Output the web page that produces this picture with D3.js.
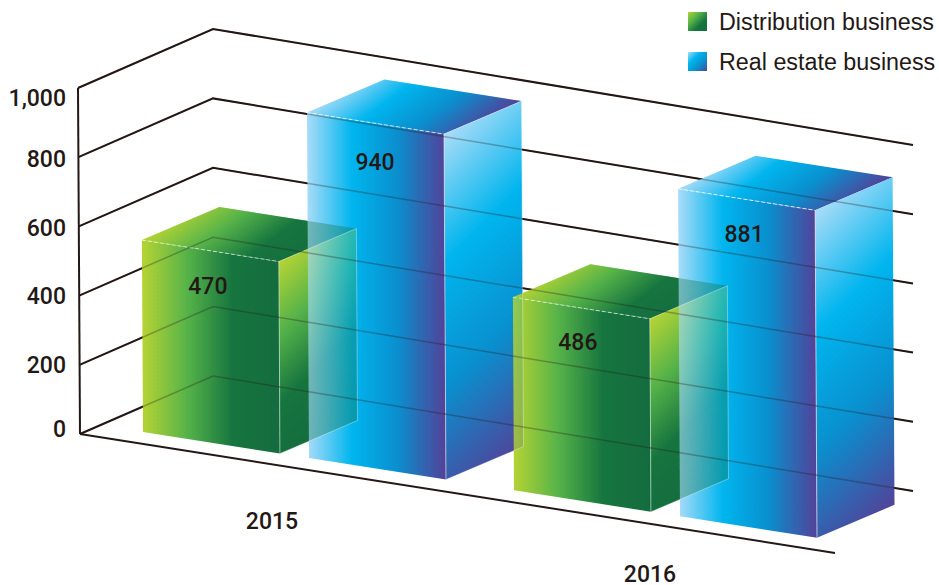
<!DOCTYPE html>
<html>
<head>
<meta charset="utf-8">
<script src="https://cdn.jsdelivr.net/npm/d3@7"></script>
<style>
    body { margin: 0; background: #fff; }
    svg { display: block; }
    .num { font-family: Roboto, sans-serif; font-weight: 500; fill: #231815; }
    .legend-label { font-family: "Liberation Sans", Arial, sans-serif; font-size: 23.3px; fill: #231815; }
</style>
</head>
<body>
<div id="chart"></div>
<script>
// Data
const years = ['2015', '2016'];
const seriesNames = ['Distribution business', 'Real estate business'];
const distribution = [470, 486];
const realEstate = [940, 881];
const tickValues = [0, 200, 400, 600, 800, 1000];

const greenStops = ['#b6d433', '#56b349', '#16753f', '#146c3e'];
const blueStops = ['#aadcf8', '#00b5ee', '#0a8fce', '#50449a'];
const stopOffsets = [0, 0.33, 0.66, 1];

const width = 939;
const height = 585;
const ink = '#231815';

const svg = d3.select('#chart').append('svg')
    .attr('width', width)
    .attr('height', height)
    .attr('viewBox', [0, 0, width, height]);
const defs = svg.append('defs');

function addGradient(id, stops, coords) {
    const g = defs.append('linearGradient').attr('id', id);
    if (coords) {
        g.attr('gradientUnits', 'userSpaceOnUse')
            .attr('x1', coords[0]).attr('y1', coords[1])
            .attr('x2', coords[2]).attr('y2', coords[3]);
    } else {
        g.attr('x1', 0).attr('y1', 0).attr('x2', 1).attr('y2', 1);
    }
    g.selectAll('stop').data(stops).join('stop')
        .attr('offset', (d, i) => stopOffsets[i])
        .attr('stop-color', d => d);
    return `url(#${id})`;
}

// The walls: value to screen position on the left wall and the back wall
const yLeft = d3.scaleLinear().domain([0, 1000]).range([434, 88]);
const xLeft = d3.scaleLinear().domain([0, 1000]).range([80, 78]);
const yBack = d3.scaleLinear().domain([0, 1000]).range([376, 29]);
const yBackRight = d3.scaleLinear().domain([0, 1000]).range([491, 145]);
const xBack = 213;
const xBackRight = 913;

// tick labels do not sit exactly on the wall lines in the original
const yLabel = d3.scaleLinear().domain(tickValues).range([428, 364, 295, 227, 158, 97]);

// Bars: the drawn heights are not proportional to the wall scale
const barHeight = d3.scaleLinear().domain([470, 486, 881, 940]).range([192, 193, 327.5, 345.5]);
const xYear = d3.scaleBand().domain(years).range([143, 885]);
const xSeries = d3.scaleBand().domain(seriesNames).range([0, 332]);
const floorY = x => 432 + (x - 143) * 0.157;

const barW = [137, 21.5];
const barD = [77.5, -33];
const lean = 2 / 346;

// Grid
const gridLines = tickValues.map(v => [
    [xLeft(v), yLeft(v)], [xBack, yBack(v)], [xBackRight, yBackRight(v)]
]);
const floorFront = [[xLeft(0), yLeft(0)], [835, 553]];
const line = d3.line();

const gridG = svg.append('g').attr('fill', 'none').attr('stroke', ink).attr('stroke-width', 2);
gridG.selectAll('path.grid').data(gridLines).join('path')
    .attr('class', 'grid')
    .attr('d', line);
gridG.append('path').attr('d', line(floorFront));
gridG.append('path').attr('d', line([[xLeft(1000), yLeft(1000)], [xLeft(0), yLeft(0)]]));

// Bars, left to right
const bars = [];
years.forEach((year, i) => {
    bars.push({ year, series: seriesNames[0], value: distribution[i], stops: greenStops, ghost: 0.35 });
    bars.push({ year, series: seriesNames[1], value: realEstate[i], stops: blueStops, ghost: 0.18 });
});

const barsG = svg.append('g');

function facesOf(d, i) {
    const x0 = xYear(d.year) + xSeries(d.series);
    const y0 = floorY(x0);
    const h = barHeight(d.value);
    const pt = (w, z, up) => [
        x0 + w * barW[0] + z * barD[0] - up * h * lean,
        y0 + w * barW[1] + z * barD[1] - up * h
    ];
    const tl = pt(0, 0, 1), tr = pt(1, 0, 1), bl = pt(0, 0, 0), br = pt(1, 0, 0);
    const ttr = pt(1, 1, 1), ttl = pt(0, 1, 1), sbr = pt(1, 1, 0);
    const run = 186 * h / 328;

    return {
        tl, tr, bl, br, ttr, ttl, sbr,
        front: [tl, tr, br, bl],
        side: [tr, ttr, sbr, br],
        top: [tl, ttl, ttr, tr],
        frontFill: addGradient(`front-${i}`, d.stops, [tl[0], 0, tr[0], 0]),
        sideFill: addGradient(`side-${i}`, d.stops, [tr[0], tr[1], tr[0] + run, tr[1] + run]),
        topFill: addGradient(`top-${i}`, d.stops, [tl[0], tl[1], tl[0] + 70, tl[1] + 94])
    };
}

const closed = d3.line().curve(d3.curveLinearClosed);

bars.forEach((d, i) => {
    const f = facesOf(d, i);
    d.faces = f;
    const g = barsG.append('g');
    g.append('path').attr('d', closed(f.top)).attr('fill', f.topFill);
    g.append('path').attr('d', closed(f.side)).attr('fill', f.sideFill);
    g.append('path').attr('d', closed(f.front)).attr('fill', f.frontFill);
    g.append('path').attr('d', line([f.tr, f.br]))
        .attr('stroke', '#fff').attr('stroke-opacity', 0.6).attr('stroke-width', 1);
    g.append('path').attr('d', line([f.tl, f.tr]))
        .attr('stroke', '#fff').attr('stroke-opacity', 0.8).attr('stroke-width', 1)
        .attr('stroke-dasharray', '4 2');

    // the bar behind shows through the one standing in front of it
    if (i > 0) {
        const prev = bars[i - 1].faces;
        const ghost = barsG.append('g').attr('fill-opacity', bars[i - 1].ghost);
        ghost.append('path').attr('d', closed(prev.top)).attr('fill', prev.topFill);
        ghost.append('path').attr('d', closed(prev.side)).attr('fill', prev.sideFill);
        ghost.append('path').attr('d', line([prev.tr, prev.ttr, prev.sbr, prev.br]))
            .attr('fill', 'none').attr('stroke', '#fff').attr('stroke-opacity', 0.35);
    }
});

// Grid lines showing faintly through the bars
svg.append('g').attr('fill', 'none').attr('stroke', ink).attr('stroke-width', 1.5).attr('stroke-opacity', 0.3)
    .selectAll('path').data(gridLines).join('path')
    .attr('d', line);

// Value labels, small nudges relative to each bar's front corner
const labelDx = [66, 68, 65, 66];
const labelDy = [54, 57, 53, 53];
svg.append('g').selectAll('text').data(bars).join('text')
    .attr('class', 'num')
    .attr('font-size', 23)
    .attr('text-anchor', 'middle')
    .attr('x', (d, i) => d.faces.tl[0] + labelDx[i])
    .attr('y', (d, i) => d.faces.tl[1] + labelDy[i])
    .text(d => d.value);

// Axis labels
svg.append('g').selectAll('text').data(tickValues).join('text')
    .attr('class', 'num')
    .attr('font-size', 23)
    .attr('text-anchor', 'end')
    .attr('x', 66)
    .attr('y', yLabel)
    .attr('dy', '0.4em')
    .text(d => d3.format(',')(d));

// Category labels
const xLabel = d3.scalePoint().domain(years).range([272, 650]);
const yearBaseline = d3.scalePoint().domain(years).range([529, 582]);
svg.append('g').selectAll('text').data(years).join('text')
    .attr('class', 'num')
    .attr('font-size', 23)
    .attr('text-anchor', 'middle')
    .attr('x', d => xLabel(d))
    .attr('y', d => yearBaseline(d))
    .text(d => d);

// Legend
const legend = svg.append('g').selectAll('g').data(seriesNames).join('g')
    .attr('transform', (d, i) => `translate(688, ${12 + i * 40})`);
legend.append('rect')
    .attr('width', 19)
    .attr('height', 19)
    .attr('fill', (d, i) => addGradient(`legend-${i}`, i === 0 ? greenStops : blueStops));
legend.append('text')
    .attr('class', 'legend-label')
    .attr('x', 31)
    .attr('y', 18)
    .text(d => d);
</script>
</body>
</html>
